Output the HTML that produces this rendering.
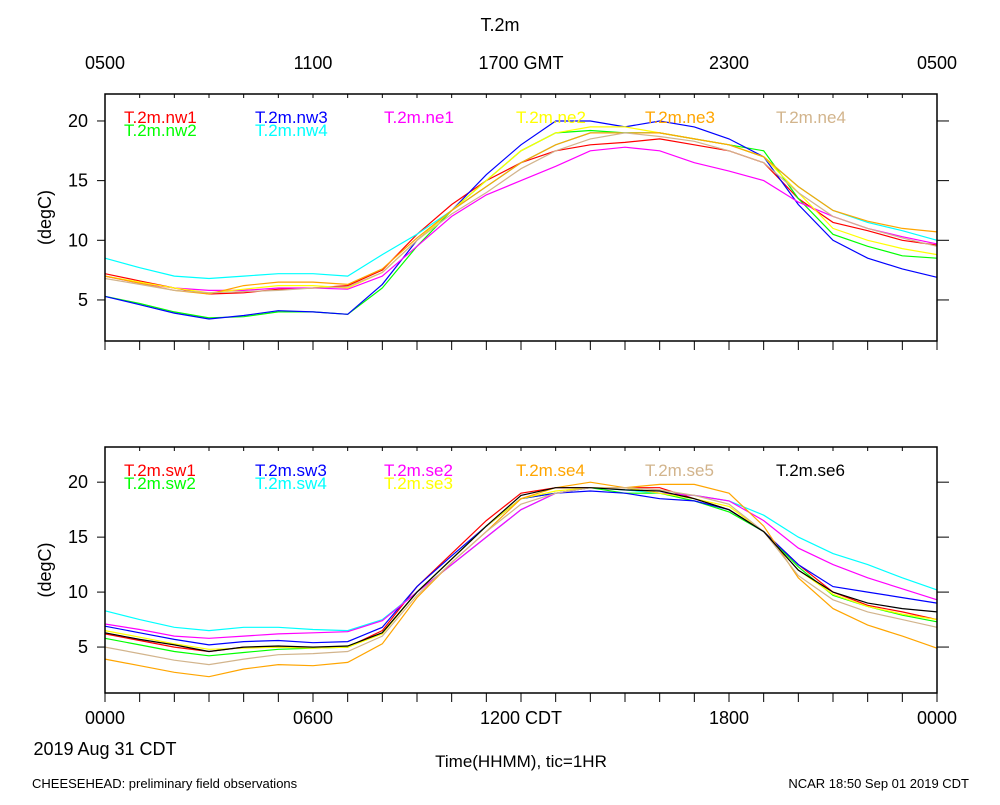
<!DOCTYPE html>
<html><head><meta charset="utf-8"><style>
body{margin:0;background:#fff}
svg text{font-family:"Liberation Sans",sans-serif}
</style></head><body>
<svg id="c" width="1000" height="800" xmlns="http://www.w3.org/2000/svg">
<text x="500" y="31" font-size="18" text-anchor="middle">T.2m</text>
<g font-size="18" text-anchor="middle">
<text x="105" y="69">0500</text><text x="313" y="69">1100</text><text x="521" y="69">1700 GMT</text><text x="729" y="69">2300</text><text x="937" y="69">0500</text></g>
<g font-size="18" text-anchor="middle">
<text x="105" y="724">0000</text><text x="313" y="724">0600</text><text x="521" y="724">1200 CDT</text><text x="729" y="724">1800</text><text x="937" y="724">0000</text></g>
<text x="105" y="755" font-size="18" text-anchor="middle">2019 Aug 31 CDT</text>
<text x="521" y="767" font-size="17" text-anchor="middle">Time(HHMM), tic=1HR</text>
<text x="32" y="788" font-size="13">CHEESEHEAD: preliminary field observations</text>
<text x="969" y="788" font-size="13" text-anchor="end">NCAR 18:50 Sep 01 2019 CDT</text>
</svg>
<script>
const hours=[0,1,2,3,4,5,6,7,8,9,10,11,12,13,14,15,16,17,18,19,20,21,22,23,24];
const yTicks=[5,10,15,20];
const topNames=["T.2m.nw1","T.2m.nw2","T.2m.nw3","T.2m.nw4","T.2m.ne1","T.2m.ne2","T.2m.ne3","T.2m.ne4"];
const nw1=[7.2,6.6,6,5.5,5.6,5.9,6.0,6.2,7.5,10.5,13,15,16.5,17.5,18,18.2,18.5,18,17.5,16.5,13.5,11.5,10.8,10,9.6];
const nw2=[5.3,4.7,4,3.5,3.6,4,4,3.8,6,9.5,12.5,15,17.5,19,19.2,19,19,18.5,18,17.5,13.5,10.5,9.5,8.7,8.5];
const nw3=[5.3,4.6,3.9,3.4,3.7,4.1,4,3.8,6.3,10,12.5,15.5,18,20,20,19.5,20,19.5,18.5,17,13,10,8.5,7.6,6.9];
const nw4=[8.5,7.7,7,6.8,7,7.2,7.2,7,8.8,10.5,12.5,14.5,16.5,18,19,19,19,18.5,18,17,14.5,12.5,11.5,10.8,10];
const ne1=[7,6.4,6,5.8,5.8,6,6,5.9,7,9.5,12,13.8,15,16.2,17.5,17.8,17.5,16.5,15.8,15,13.2,12,11,10.3,9.7];
const ne2=[7,6.5,6,5.6,5.9,6.2,6.2,6,7.3,10,12.5,15,17.5,19,19.5,19.5,19,18.5,18,17,14,11,10,9.3,8.8];
const ne3=[7,6.4,5.8,5.5,6.2,6.5,6.5,6.3,7.6,10.2,12.5,14.5,16.5,18,19,19,19,18.5,18,17,14.5,12.5,11.6,11,10.7];
const ne4=[6.8,6.3,5.8,5.6,5.7,5.8,6,6.1,7.3,10,12.2,14,16,17.5,18.5,19,18.7,18.3,17.5,16.5,14,12,11,10.2,9.5];
const botNames=["T.2m.sw1","T.2m.sw2","T.2m.sw3","T.2m.sw4","T.2m.se2","T.2m.se3","T.2m.se4","T.2m.se5","T.2m.se6"];
const sw1=[6.2,5.6,5,4.6,5,5,5,5,6.5,10.5,13.5,16.5,19,19.5,19.5,19.5,19.5,18.5,17.5,15.5,12.5,10,8.8,8.2,7.5];
const sw2=[5.8,5.2,4.6,4.2,4.5,4.8,4.9,5,6.3,10,13,16,18.5,19,19.5,19,19,18.3,17.3,15.5,12.3,9.7,8.7,7.9,7.3];
const sw3=[6.9,6.3,5.7,5.2,5.5,5.6,5.4,5.5,6.8,10.5,13.3,16,18.5,19,19.2,19,18.5,18.3,17.5,15.5,12.5,10.5,10,9.5,9];
const sw4=[8.3,7.5,6.8,6.5,6.8,6.8,6.6,6.5,7.5,10,12.5,15,17.5,19,19.5,19.3,19,18.8,18.3,17,15,13.5,12.5,11.3,10.2];
const se2=[7.1,6.6,6,5.8,6,6.2,6.3,6.4,7.4,10,12.5,15,17.5,19,19.5,19.5,19,18.8,18.3,16.5,14,12.5,11.3,10.3,9.3];
const se3=[6.5,5.9,5.3,4.8,4.9,5,4.9,5,6.2,10,13,16,18.5,19.2,19.5,19.5,19,18.5,17.8,15.5,12,9.8,8.7,8,7.5];
const se4=[3.9,3.3,2.7,2.3,3,3.4,3.3,3.6,5.3,9.5,12.7,15.5,18.5,19.5,20,19.5,19.8,19.8,19,16,11.3,8.5,7,6,4.9];
const se5=[5,4.4,3.8,3.4,3.9,4.3,4.4,4.6,6,9.7,12.7,15.5,18,19,19.5,19.5,19.3,18.8,18,15.5,11.5,9.3,8.2,7.5,6.8];
const se6=[6.3,5.7,5.2,4.6,5,5.1,5,5.1,6.3,10,13,16,18.8,19.5,19.5,19.3,19.2,18.5,17.5,15.5,12,10,9,8.5,8.2];

const NS="http://www.w3.org/2000/svg";
const svg=document.getElementById('c');
function mk(t,a,p){const e=document.createElementNS(NS,t);for(const k in a)e.setAttribute(k,a[k]);(p||svg).appendChild(e);return e;}
const X0=105,X1=937;
const xs=h=>X0+(X1-X0)*h/24;

function panel(id,top,bot,ymin,ymax,names,series,colors,legendPos){
  const ys=v=>bot-(v-ymin)/(ymax-ymin)*(bot-top);
  const g=mk('g',{});
  
  
  series.forEach((s,i)=>{
    const d=s.map((v,j)=>(j?'L':'M')+xs(hours[j]).toFixed(1)+','+ys(v).toFixed(1)).join('');
    const p=mk('path',{d:d,fill:'none',stroke:colors[i],'stroke-width':1.2},g);
    
    
  });
  const r=mk('rect',{x:X0,y:top,width:X1-X0,height:bot-top,fill:'none',stroke:'#000','stroke-width':1.5},g);
  
  
  hours.forEach(h=>{
    mk('line',{x1:xs(h),x2:xs(h),y1:top,y2:top+4,stroke:'#000'},g);
    mk('line',{x1:xs(h),x2:xs(h),y1:bot,y2:bot+9,stroke:'#000'},g);
  });
  yTicks.forEach(v=>{
    mk('line',{x1:X0-8,x2:X0,y1:ys(v),y2:ys(v),stroke:'#000'},g);
    mk('line',{x1:X1,x2:X1+12,y1:ys(v),y2:ys(v),stroke:'#000'},g);
    const t=mk('text',{x:88,y:ys(v)+6,'font-size':18,'text-anchor':'end'},g);
    t.textContent=v;
    
    
  });
  const yl=mk('text',{x:0,y:0,'font-size':18,'text-anchor':'middle',transform:`translate(51,${(top+bot)/2}) rotate(-90)`},g);
  yl.textContent='(degC)';
  
  
  names.forEach((n,i)=>{
    const t=mk('text',{x:legendPos[i][0],y:legendPos[i][1],'font-size':17,fill:colors[i]},g);
    t.textContent=n;
    
    
  });
}
panel('top',94,341,1.56,22.26,topNames,[nw1,nw2,nw3,nw4,ne1,ne2,ne3,ne4],
 ['#f00','#0f0','#00f','#0ff','#f0f','#ff0','#ffa500','#d2b48c'],
 [[124,123],[124,136],[255,123],[255,136],[384,123],[516,123],[645,123],[776,123]]);
panel('bottom',447,693,0.82,23.2,botNames,[sw1,sw2,sw3,sw4,se2,se3,se4,se5,se6],
 ['#f00','#0f0','#00f','#0ff','#f0f','#ff0','#ffa500','#d2b48c','#000'],
 [[124,476],[124,489],[255,476],[255,489],[384,476],[384,489],[516,476],[645,476],[776,476]]);
</script>
</body></html>
